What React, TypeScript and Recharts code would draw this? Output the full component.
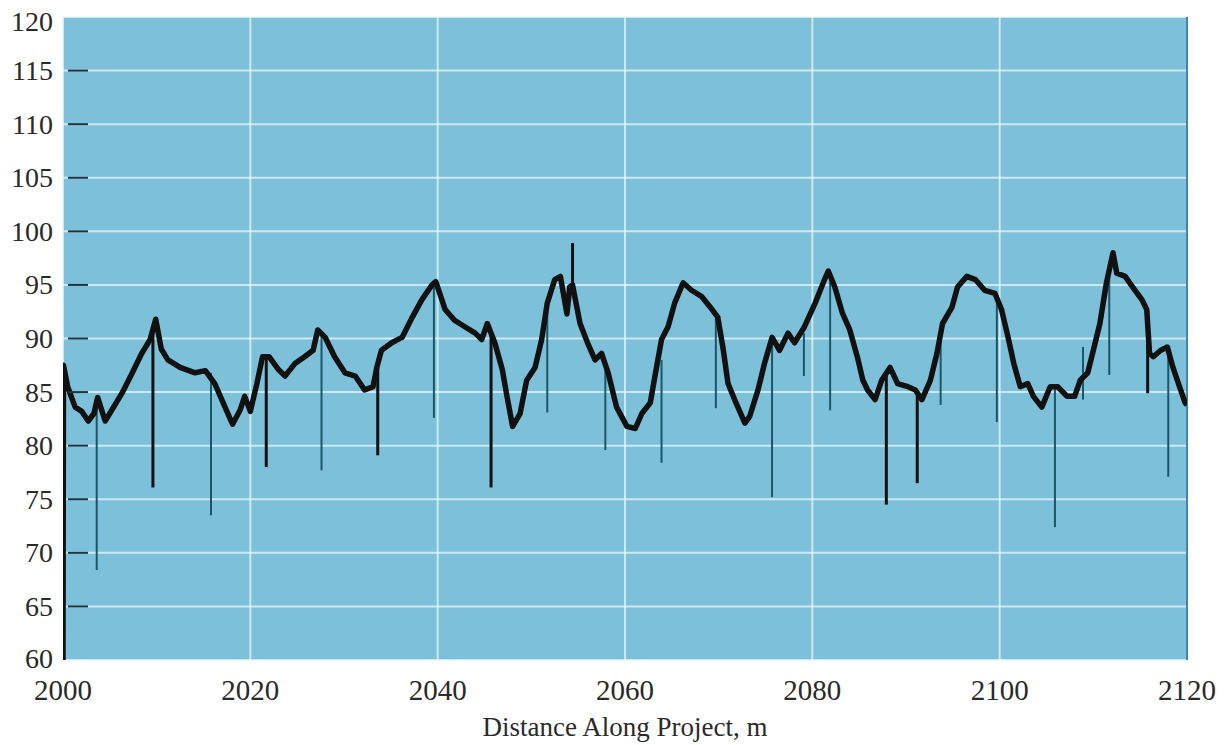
import React from 'react';
import { ComposedChart, Line, XAxis, YAxis, CartesianGrid, ReferenceLine } from 'recharts';

// distance along project (m) and profile reading
const distance = [
  2000, 2000.05, 2000.5, 2001.3, 2002, 2002.7, 2003.3, 2003.7, 2004.5, 2005.2, 2006.3, 2007.4, 2008.4, 2009.3, 2009.9,
  2010.5, 2011.2, 2012.5, 2014.1, 2015.2, 2016.2, 2017.3, 2018.1, 2018.9, 2019.4, 2020, 2020.7, 2021.3, 2022, 2023,
  2023.7, 2024.8, 2025.8, 2026.7, 2027.2, 2028, 2029, 2030.1, 2031.2, 2032.2, 2033.1, 2033.5, 2034, 2035.1, 2036.2,
  2037.3, 2038.3, 2039.4, 2039.8, 2040.8, 2041.8, 2042.9, 2044, 2044.7, 2045.3, 2046.1, 2046.9, 2047.4, 2048, 2048.8,
  2049.5, 2050.4, 2051.1, 2051.7, 2052.5, 2053.1, 2053.8, 2054.1, 2054.4, 2055.2, 2056, 2056.8, 2057.5, 2058.2, 2059.1,
  2060.2, 2061.1, 2061.8, 2062.7, 2063.2, 2063.9, 2064.6, 2065.3, 2066.2, 2067.1, 2068.2, 2069.3, 2069.9, 2070.5, 2071,
  2071.7, 2072.8, 2073.3, 2074.2, 2074.9, 2075.7, 2076.5, 2077.4, 2078.1, 2079.1, 2080.3, 2081.3, 2081.7, 2082.4, 2083.2,
  2084, 2084.8, 2085.4, 2085.9, 2086.7, 2087.4, 2088.3, 2089.1, 2090.2, 2091, 2091.7, 2092.6, 2093.3, 2093.9, 2094.9,
  2095.5, 2096.5, 2097.4, 2098.4, 2099.5, 2100.2, 2100.9, 2101.5, 2102.2, 2103, 2103.6, 2104.5, 2105.4, 2106.2, 2107.2,
  2108, 2108.6, 2109.4, 2110.2, 2110.7, 2111.4, 2112.1, 2112.5, 2113.4, 2114.2, 2115.2, 2115.7, 2116, 2116.4, 2117.2,
  2117.9, 2118.5, 2119.2, 2119.8, 2120,
];
const reading = [
  60, 87.5, 85.5, 83.6, 83.2, 82.3, 83.0, 84.5, 82.3, 83.3, 84.9, 86.8, 88.6, 89.9, 91.8,
  89.0, 88.0, 87.3, 86.8, 87.0, 85.8, 83.6, 82.0, 83.3, 84.6, 83.2, 85.8, 88.3, 88.3, 87.1,
  86.5, 87.7, 88.3, 88.9, 90.8, 90.1, 88.3, 86.8, 86.5, 85.2, 85.5, 87.3, 88.9, 89.6, 90.1,
  92.0, 93.6, 95.0, 95.3, 92.7, 91.7, 91.1, 90.5, 89.9, 91.4, 89.6, 87.1, 84.6, 81.8, 83.0,
  86.1, 87.3, 89.9, 93.3, 95.5, 95.8, 92.3, 94.8, 95.0, 91.4, 89.6, 88.0, 88.6, 86.8, 83.6,
  81.8, 81.6, 83.0, 84.0, 86.5, 89.9, 91.1, 93.3, 95.2, 94.5, 93.9, 92.7, 92.0, 88.9, 85.8,
  84.3, 82.1, 82.7, 85.2, 87.7, 90.1, 88.9, 90.5, 89.6, 91.0, 93.3, 95.5, 96.3, 94.8, 92.4,
  90.8, 88.3, 86.1, 85.2, 84.3, 86.1, 87.3, 85.8, 85.5, 85.2, 84.3, 86.1, 88.6, 91.4, 92.9,
  94.8, 95.8, 95.5, 94.5, 94.2, 92.7, 90.1, 87.7, 85.5, 85.8, 84.6, 83.6, 85.5, 85.5, 84.6,
  84.6, 86.1, 86.8, 89.6, 91.4, 95.2, 98.0, 96.1, 95.8, 94.8, 93.6, 92.7, 88.6, 88.3, 88.9,
  89.2, 87.3, 85.5, 84.0, 83.8,
];

// heavy dropouts: position, value at the line, value at the tip
const heavySpikeAt = [2009.6, 2021.7, 2033.6, 2045.7, 2054.4, 2087.9, 2091.2, 2115.8];
const heavySpikeFrom = [91.0, 88.3, 87.3, 90.5, 95.0, 86.5, 85.0, 92.5];
const heavySpikeTo = [76.1, 78.0, 79.1, 76.1, 98.9, 74.5, 76.5, 84.9];

// thin dropouts
const thinSpikeAt = [
  2003.6, 2015.8, 2027.6, 2039.6, 2051.7, 2057.9, 2063.9, 2069.7, 2075.7, 2079.1, 2081.9, 2093.7, 2099.7, 2105.9,
  2108.9, 2111.7, 2118.0,
];
const thinSpikeFrom = [84, 86.8, 90.5, 95, 93, 88, 88, 92, 89.5, 90.5, 96, 90, 94, 85.5, 84.3, 96, 89];
const thinSpikeTo = [68.4, 73.5, 77.7, 82.6, 83.1, 79.6, 78.4, 83.5, 75.2, 86.5, 83.3, 83.8, 82.2, 72.4, 89.2, 86.6, 77.1];

const xTicks = [2000, 2020, 2040, 2060, 2080, 2100, 2120];
const yTicks = [60, 65, 70, 75, 80, 85, 90, 95, 100, 105, 110, 115, 120];

const W = 1226;
const H = 745;
const PLOT_LEFT = 63;
const SERIF = '"Liberation Serif", "DejaVu Serif", serif';

const profile = distance.map((x, i) => ({ x, y: reading[i] }));

const YTick = (props: any) => {
  const { x, y, payload } = props;
  const v = payload.value;
  const dy = v === 120 ? 4 : v === 60 ? -2 : 0;
  return (
    <g>
      <text x={x} y={y + dy} textAnchor="end" dominantBaseline="central" fontFamily={SERIF} fontSize={28} fill="#2a2a2a">
        {v}
      </text>
      {v !== 60 && v !== 120 && (
        <line x1={PLOT_LEFT + 5} x2={PLOT_LEFT + 25} y1={y} y2={y} stroke="#1e3440" strokeWidth={2} />
      )}
    </g>
  );
};

export default function App() {
  return (
    <div style={{ position: 'absolute', left: 0, top: 0, background: '#fff' }}>
      <ComposedChart width={W} height={H} margin={{ top: 17, right: 39, left: 0, bottom: 0 }}>
        <CartesianGrid fill="#7cc1d9" stroke="#eef8fb" strokeWidth={2} strokeOpacity={0.7} />
        <XAxis
          type="number"
          dataKey="x"
          domain={[2000, 2120]}
          ticks={xTicks}
          allowDataOverflow
          axisLine={false}
          tickLine={false}
          tickSize={0}
          tickMargin={19}
          height={85}
          tick={{ fontFamily: SERIF, fontSize: 29, fill: '#2a2a2a' }}
          label={{
            value: 'Distance Along Project, m',
            position: 'insideBottom',
            offset: 9,
            style: { fontFamily: SERIF, fontSize: 27, fill: '#2a2a2a' },
          }}
        />
        <YAxis
          type="number"
          domain={[60, 120]}
          ticks={yTicks}
          allowDataOverflow
          width={PLOT_LEFT}
          axisLine={false}
          tickLine={false}
          tickSize={0}
          tickMargin={10}
          tick={<YTick />}
        />
        <ReferenceLine x={2120} stroke="#3f86a8" strokeWidth={2} />
        {thinSpikeAt.map((x, i) => (
          <Line
            key={`t-${i}`}
            data={[{ x, v: thinSpikeFrom[i] }, { x, v: thinSpikeTo[i] }]}
            dataKey="v"
            stroke="#1b5668"
            strokeWidth={2}
            dot={false}
            activeDot={false}
            isAnimationActive={false}
          />
        ))}
        <Line
          data={profile}
          dataKey="y"
          stroke="#111"
          strokeWidth={5.5}
          strokeLinejoin="round"
          dot={false}
          activeDot={false}
          isAnimationActive={false}
        />
        {heavySpikeAt.map((x, i) => (
          <Line
            key={`h-${i}`}
            data={[{ x, v: heavySpikeFrom[i] }, { x, v: heavySpikeTo[i] }]}
            dataKey="v"
            stroke="#111"
            strokeWidth={3}
            dot={false}
            activeDot={false}
            isAnimationActive={false}
          />
        ))}
      </ComposedChart>
    </div>
  );
}
